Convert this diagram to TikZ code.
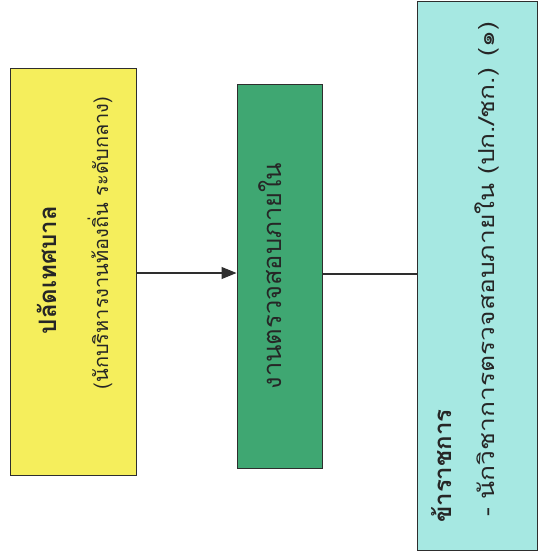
\documentclass[tikz,border=0pt]{standalone}
\usepackage{fontspec}
\newfontfamily\thaifont[Script=Thai]{Loma}
\newfontfamily\thaiwide[Script=Thai,FakeStretch=1.2]{Loma}
\usetikzlibrary{arrows.meta}
\definecolor{yelfill}{HTML}{F5EE5C}
\definecolor{grnfill}{HTML}{3FA772}
\definecolor{cyanfill}{HTML}{A6E8E2}
\definecolor{edge}{HTML}{2E2E2E}
\definecolor{ink}{HTML}{262626}
\tikzset{
  box/.style={draw=edge, line width=1pt, inner sep=0pt},
  vtext/.style={rotate=90, inner sep=0pt, text=ink, font=\thaifont},
  link/.style={draw=edge, line width=1.1pt},
  arrowlink/.style={link, -{Triangle[length=15pt,width=12pt]}}
}
\begin{document}
\begin{tikzpicture}[x=1pt,y=-1pt]
\useasboundingbox (0,0) rectangle (540,558);
\fill[white] (0,0) rectangle (540,558);
% boxes
\node[box, fill=yelfill, minimum width=126pt, minimum height=407pt] (yel) at (73,271.5) {};
\node[box, fill=grnfill, minimum width=85pt, minimum height=384pt] (grn) at (279.5,276) {};
\node[box, fill=cyanfill, minimum width=120pt, minimum height=549pt] (cya) at (477,275.5) {};
% texts
\node[vtext, font=\thaifont\bfseries\fontsize{24}{28}\selectfont] (t1) at (47,270) {ปลัดเทศบาล};
\node[vtext, font=\thaifont\fontsize{20}{24}\selectfont] (t2) at (100,243) {(นักบริหารงานท้องถิ่น ระดับกลาง)};
\node[vtext, font=\thaifont\fontsize{25.5}{30}\selectfont] (t3) at (270,276) {งานตรวจสอบภายใน};
\node[vtext, anchor=west, font=\thaifont\bfseries\fontsize{24}{28}\selectfont] (t4) at (442,523) {ข้าราชการ};
\node[vtext, anchor=west, font=\thaiwide\fontsize{22}{26}\selectfont] (t5) at (487,517) {- นักวิชาการตรวจสอบภายใน (ปก./ชก.) (๑)};
% connectors
\coordinate (lvl1) at (0,273);
\coordinate (lvl2) at (0,274);
\draw[arrowlink] (yel.east |- lvl1) -- (grn.west |- lvl1);
\draw[link] (grn.east |- lvl2) -- (cya.west |- lvl2);
\end{tikzpicture}
\end{document}
